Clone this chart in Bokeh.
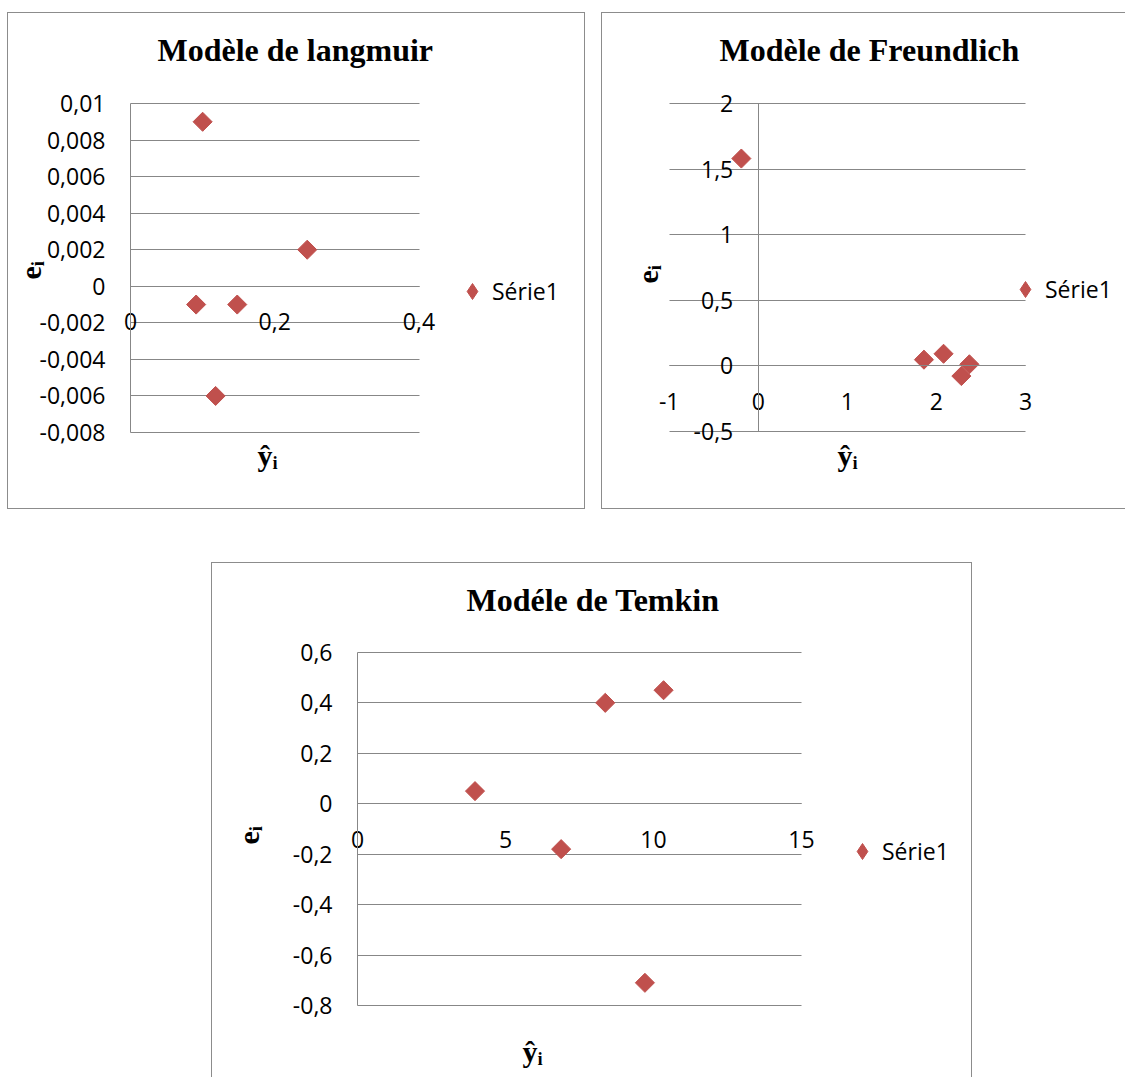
import numpy as np
from bokeh.plotting import figure
from bokeh.models import (Range1d, LinearAxis, FixedTicker, Legend, LegendItem,
                          Title, Spacer, Grid, ColumnDataSource)
from bokeh.layouts import row, column
from bokeh.embed import file_html
from bokeh.resources import INLINE

# ---------------- data ----------------
series_name = "Série1"

langmuir_title = "Modèle de langmuir"
langmuir_yhat = [0.100, 0.245, 0.091, 0.148, 0.118]
langmuir_e = [0.009, 0.002, -0.001, -0.001, -0.006]
langmuir_xticks = [0, 0.2, 0.4]
langmuir_xlabels = ["0", "0,2", "0,4"]
langmuir_yticks = [-0.008, -0.006, -0.004, -0.002, 0, 0.002, 0.004, 0.006, 0.008, 0.01]
langmuir_ylabels = ["-0,008", "-0,006", "-0,004", "-0,002", "0", "0,002", "0,004",
                    "0,006", "0,008", "0,01"]

freundlich_title = "Modèle de Freundlich"
freundlich_yhat = [-0.19, 1.86, 2.08, 2.37, 2.28]
freundlich_e = [1.58, 0.045, 0.09, 0.01, -0.08]
freundlich_xticks = [-1, 0, 1, 2, 3]
freundlich_xlabels = ["-1", "0", "1", "2", "3"]
freundlich_yticks = [-0.5, 0, 0.5, 1, 1.5, 2]
freundlich_ylabels = ["-0,5", "0", "0,5", "1", "1,5", "2"]

temkin_title = "Modéle de Temkin"
temkin_yhat = [3.97, 6.88, 8.37, 10.34, 9.71]
temkin_e = [0.05, -0.18, 0.40, 0.45, -0.71]
temkin_xticks = [0, 5, 10, 15]
temkin_xlabels = ["0", "5", "10", "15"]
temkin_yticks = [-0.8, -0.6, -0.4, -0.2, 0, 0.2, 0.4, 0.6]
temkin_ylabels = ["-0,8", "-0,6", "-0,4", "-0,2", "0", "0,2", "0,4", "0,6"]

x_title = "ŷᵢ"
y_title = "eᵢ"

# ---------------- style ----------------
GRID = "#878787"
MARK = "#C0504D"
BORDER = "1px solid #8c8c8c"
SERIF = "Liberation Serif"
SANS = "Open Sans"
HAS_CROSS = "cross_bounds" in Grid.properties()
KEY = 40          # legend glyph box (px); diamond key size = 0.4 * KEY


def value_axis(ticks, labels, standoff):
    return LinearAxis(fixed_location=0, bounds=(ticks[0], ticks[-1]),
                      ticker=FixedTicker(ticks=ticks, minor_ticks=[]),
                      major_label_overrides=dict(zip(ticks, labels)),
                      axis_line_color=GRID, axis_line_width=1,
                      major_tick_line_color=None, minor_tick_line_color=None,
                      major_tick_out=0, major_tick_in=0, minor_tick_out=0, minor_tick_in=0,
                      major_label_standoff=standoff, major_label_text_font=SANS,
                      major_label_text_font_size="23px", major_label_text_color="black")


def side_title(text, valign, offset, standoff):
    return Title(text=text, align="left", vertical_align=valign, offset=int(offset),
                 standoff=int(round(standoff)), text_font=SERIF, text_font_size="30px",
                 text_font_style="bold", text_color="black")


def padded(v0, v1, p0, p1, f0, f1):
    # v0..v1 drawn between pixels p0..p1 of a frame that spans f0..f1
    s = (v1 - v0) / (p1 - p0)
    return Range1d(v0 - (p0 - f0) * s, v1 + (f1 - p1) * s)


def chart(title, xs, es, xticks, xlabels, yticks, ylabels, origin, size,
          tickbox, frame, ylab, xlab, legend_key, title_offset, title_standoff, css):
    ox, oy = origin[0] + 1, origin[1] + 1       # canvas sits inside the 1px css border
    w, h = size
    L, R, T, B = tickbox
    FL, FR, FT, FB = frame
    xr = padded(xticks[0], xticks[-1], L, R, FL, FR)
    yr = padded(yticks[0], yticks[-1], -B, -T, -FB, -FT)
    p = figure(width=w, height=h, x_range=xr, y_range=yr,
               toolbar_location=None, output_backend="svg",
               x_axis_location=None, y_axis_location=None,
               min_border_left=FL - ox, min_border_right=ox + w - FR,
               min_border_top=FT - oy, min_border_bottom=oy + h - FB, styles=css)
    p.title = Title(text=title, align="left", offset=title_offset,
                    standoff=title_standoff, text_font=SERIF, text_font_size="32px",
                    text_font_style="bold", text_color="black")
    p.border_fill_color = None
    p.background_fill_color = None
    p.outline_line_color = None
    p.xgrid.grid_line_color = None
    p.ygrid.ticker = FixedTicker(ticks=yticks, minor_ticks=[])
    if HAS_CROSS:
        p.ygrid.cross_bounds = (xticks[0], xticks[-1])
        p.ygrid.grid_line_color = GRID
        p.ygrid.grid_line_width = 1
    else:
        p.ygrid.grid_line_color = None
        p.segment(x0=xticks[0], x1=xticks[-1], y0=yticks, y1=yticks,
                  line_color=GRID, line_width=1)

    p.add_layout(value_axis(yticks, ylabels, 25), "left")
    p.add_layout(value_axis(xticks, xlabels, 27), "below")
    p.add_layout(side_title(y_title, "bottom", *ylab), "left")
    p.add_layout(side_title(x_title, "top", *xlab), "below")

    src = ColumnDataSource(data=dict(x=xs, e=es))
    # diamond key for the legend; it lies fully under the square markers drawn next
    key = p.scatter("x", "e", source=src, marker="diamond", size=14,
                    fill_color=MARK, line_color=MARK)
    p.scatter("x", "e", source=src, marker="square", angle=45, angle_units="deg",
              size=13.5, fill_color=MARK, line_color=MARK)

    # legend: key centre (page px) -> location relative to frame bottom-left
    cx, cy = legend_key
    loc = (cx - KEY / 2 - FL, FB - (cy + KEY / 2))
    legend = Legend(items=[LegendItem(label=series_name, renderers=[key])],
                    location=loc, border_line_color=None,
                    background_fill_alpha=0, padding=0, margin=0, spacing=0,
                    glyph_width=KEY, glyph_height=KEY, label_standoff=0,
                    label_text_font=SANS, label_text_font_size="23px",
                    label_text_color="black")
    p.add_layout(legend)
    return p


def css_border(sides):
    d = {"box-sizing": "border-box"}
    for s in sides:
        d["border-" + s] = BORDER
    return d


p1 = chart(langmuir_title, langmuir_yhat, langmuir_e,
           langmuir_xticks, langmuir_xlabels, langmuir_yticks, langmuir_ylabels,
           (7, 12), (578, 497), (130, 418.5, 103, 432), (37, 570, 80, 443),
           (164, -19), (220, -9), (472, 291), 120, 25,
           css_border(["top", "left", "right", "bottom"]))

p2 = chart(freundlich_title, freundlich_yhat, freundlich_e,
           freundlich_xticks, freundlich_xlabels, freundlich_yticks, freundlich_ylabels,
           (601, 12), (524, 497), (668.7, 1025, 103.2, 433.5), (657, 1118, 80, 446),
           (160, -13), (180, -9), (1025, 292), 62, 25,
           css_border(["top", "left", "bottom"]))

p3 = chart(temkin_title, temkin_yhat, temkin_e,
           temkin_xticks, temkin_xlabels, temkin_yticks, temkin_ylabels,
           (211, 562), (761, 515), (357, 801, 651.9, 1005), (278, 960, 630, 1030),
           (186, 28), (244, 8), (862, 851), 188, 25,
           css_border(["top", "left", "right"]))

layout = column(
    Spacer(height=12),
    row(Spacer(width=7), p1, Spacer(width=16), p2),
    Spacer(height=53),
    row(Spacer(width=211), p3),
)

open("out.html", "w").write(file_html(layout, INLINE))
